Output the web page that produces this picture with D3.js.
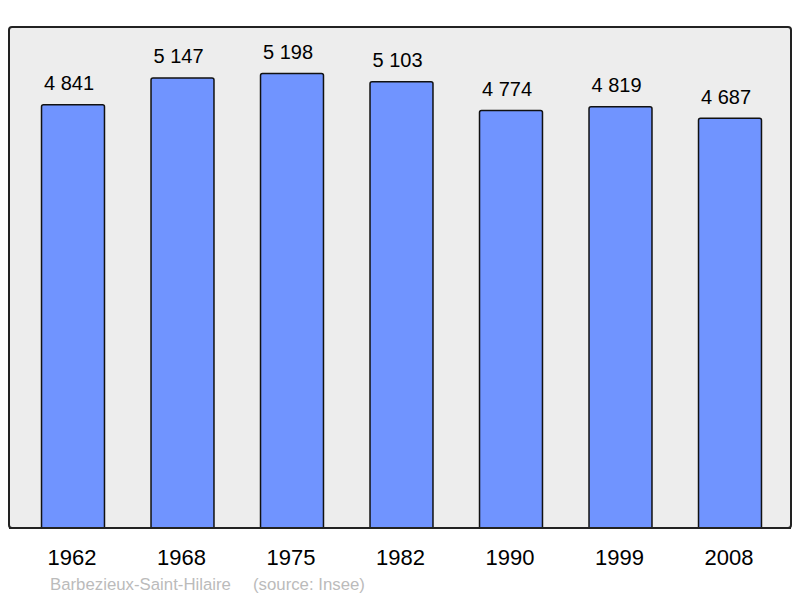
<!DOCTYPE html>
<html><head><meta charset="utf-8">
<script src="https://cdn.jsdelivr.net/npm/d3@7"></script>
<style>body{margin:0;background:#fff}svg{display:block}</style>
</head><body>
<script>
const years = ["1962","1968","1975","1982","1990","1999","2008"];
const population = [4841,5147,5198,5103,4774,4819,4687];
const valueLabels = ["4 841","5 147","5 198","5 103","4 774","4 819","4 687"];
const footerName = "Barbezieux-Saint-Hilaire";
const footerSource = "(source: Insee)";

const W=800,H=598;
const svg=d3.select("body").append("svg").attr("width",W).attr("height",H);
const font="'Liberation Sans', Arial, sans-serif";

const panel={x0:9,x1:791,y0:27,y1:528};
svg.append("rect").attr("x",panel.x0).attr("y",panel.y0)
  .attr("width",panel.x1-panel.x0).attr("height",panel.y1-panel.y0)
  .attr("rx",3).attr("fill","#ededed").attr("stroke","#222").attr("stroke-width",2);

const x=d3.scaleBand().domain(years).range([18.25,784.75]).paddingInner(0.425).paddingOuter(0.2125);
const y=d3.scaleLinear().domain([0,5730]).range([panel.y1,panel.y0]);

const g=svg.append("g");
years.forEach((yr,i)=>{
  const v=population[i];
  const x0=x(yr), w=x.bandwidth(), top=y(v), bot=y(0);
  const r=2;
  const path=`M${x0},${bot} L${x0},${top+r} Q${x0},${top} ${x0+r},${top} L${x0+w-r},${top} Q${x0+w},${top} ${x0+w},${top+r} L${x0+w},${bot}`;
  g.append("path").attr("d",path).attr("fill","#7094ff").attr("stroke","#111").attr("stroke-width",1.5);
  g.append("text").attr("x",x0+w/2-4).attr("y",top-14.5).attr("text-anchor","middle")
    .attr("font-family",font).attr("font-size",20).attr("fill","#000").text(valueLabels[i]);
});

svg.append("line").attr("x1",panel.x0).attr("x2",panel.x1).attr("y1",panel.y1).attr("y2",panel.y1)
  .attr("stroke","#222").attr("stroke-width",2);

const xAxis=d3.axisBottom(x).tickSize(0).tickPadding(0);
const ax=svg.append("g").attr("transform",`translate(-1,${panel.y1})`).call(xAxis);
ax.select(".domain").remove();
ax.selectAll("text").attr("font-family",font).attr("font-size",22).attr("fill","#000")
  .attr("dy",null).attr("y",36.5);

svg.append("text").attr("x",50).attr("y",589.5).attr("font-family",font).attr("font-size",16.8)
  .attr("fill","#bbb").text(footerName);
svg.append("text").attr("x",253).attr("y",589.5).attr("font-family",font).attr("font-size",16.8)
  .attr("fill","#bbb").text(footerSource);
</script>
</body></html>
